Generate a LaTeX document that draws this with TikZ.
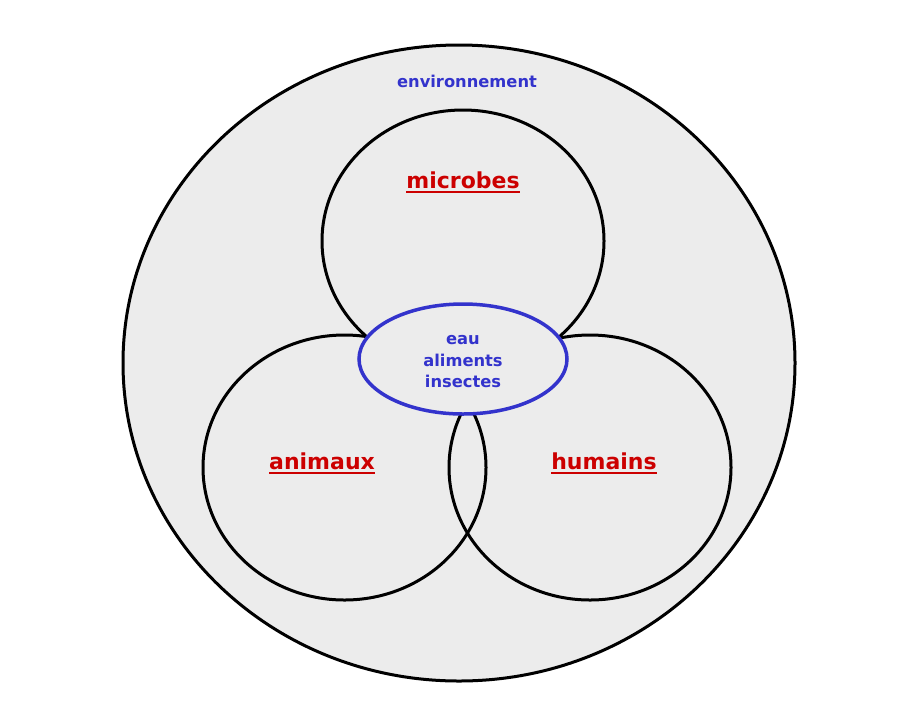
\documentclass[tikz,border=0pt]{standalone}
\usepackage{fontspec}
\setmainfont{DejaVu Sans}
\definecolor{bgtex}{RGB}{236,236,236}
\definecolor{lblue}{RGB}{51,51,204}
\definecolor{lred}{RGB}{204,0,0}
\newcommand\myul[1]{\setbox0\hbox{#1}\rlap{\rule[-4.5pt]{\wd0}{2.2pt}}\box0}
\begin{document}
\begin{tikzpicture}[x=1pt,y=-1pt,
  ring/.style={draw=black,line width=3pt},
  redlbl/.style={text=lred,font=\bfseries\fontsize{22}{24}\selectfont,inner sep=0pt},
  bluelbl/.style={text=lblue,font=\bfseries\fontsize{16.3}{21.5}\selectfont,inner sep=0pt,align=center}]
\useasboundingbox (0,0) rectangle (920,716);
\fill[white] (0,0) rectangle (920,716);
\path[ring,fill=bgtex] (459,363) ellipse [x radius=336,y radius=318];
\coordinate (env) at (459,363);
\path[ring] (463,241) ellipse [x radius=141,y radius=131];
\path[ring] (344.5,467.5) ellipse [x radius=141.5,y radius=132.5];
\path[ring] (590,467.5) ellipse [x radius=141,y radius=132.5];
\path[draw=lblue,line width=3.5pt,fill=bgtex] (463,359) ellipse [x radius=104,y radius=55];
\node[bluelbl] (envl) at (467,81) {environnement};
\node[redlbl] (mic) at (463,182.5) {\myul{microbes}};
\node[redlbl] (ani) at (322,463.5) {\myul{animaux}};
\node[redlbl] (hum) at (604,463.5) {\myul{humains}};
\node[bluelbl] (mid) at (463,362) {eau\\aliments\\insectes};
\end{tikzpicture}
\end{document}
